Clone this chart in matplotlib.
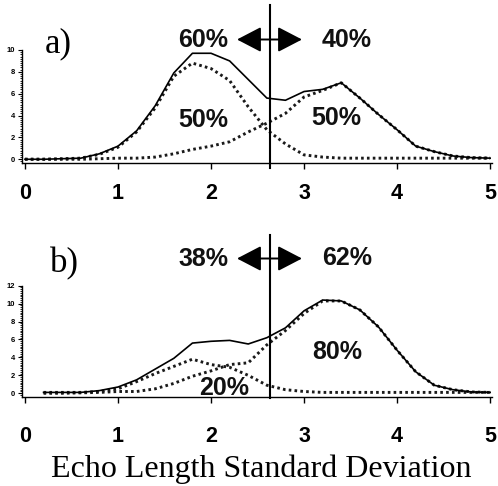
import matplotlib
matplotlib.use("Agg")
import matplotlib.pyplot as plt
from matplotlib.patches import FancyArrowPatch
from matplotlib.lines import Line2D
from matplotlib.ticker import MultipleLocator

W, H = 498, 486

# ---------------- data ----------------
x_a = [0.0, 0.2, 0.4, 0.6, 0.8, 1.0, 1.2, 1.4, 1.6, 1.8, 2.0, 2.2, 2.4, 2.6,
       2.8, 3.0, 3.2, 3.4, 3.6, 3.8, 4.0, 4.2, 4.4, 4.6, 4.8, 5.0]
total_a = [0.0, 0.0, 0.05, 0.1, 0.5, 1.2, 2.6, 4.9, 7.9, 9.7, 9.7, 9.0, 7.3, 5.6,
           5.4, 6.2, 6.4, 7.0, 5.6, 4.1, 2.7, 1.2, 0.7, 0.3, 0.15, 0.1]
comp1_a = [0.0, 0.0, 0.05, 0.1, 0.45, 1.1, 2.5, 4.7, 7.6, 8.8, 8.3, 7.2, 4.8, 2.7,
           1.4, 0.4, 0.2, 0.1, 0.1, 0.1, 0.1, 0.1, 0.1, 0.1, 0.1, 0.1]
comp2_a = [0.0, 0.0, 0.0, 0.0, 0.05, 0.1, 0.1, 0.2, 0.5, 0.9, 1.2, 1.6, 2.5, 3.3,
           4.2, 5.7, 6.3, 7.0, 5.6, 4.1, 2.7, 1.2, 0.7, 0.3, 0.15, 0.1]

x_b = [0.2, 0.4, 0.6, 0.8, 1.0, 1.2, 1.4, 1.6, 1.8, 2.0, 2.2, 2.4, 2.6,
       2.8, 3.0, 3.2, 3.4, 3.6, 3.8, 4.0, 4.2, 4.4, 4.6, 4.8, 5.0]
total_b = [0.1, 0.1, 0.1, 0.3, 0.7, 1.5, 2.7, 3.9, 5.6, 5.8, 5.9, 5.5, 6.2,
           7.3, 9.2, 10.4, 10.3, 9.3, 7.4, 4.8, 2.4, 0.9, 0.4, 0.15, 0.1]
comp1_b = [0.1, 0.1, 0.1, 0.2, 0.5, 1.3, 2.2, 3.0, 3.8, 3.2, 2.9, 2.0, 0.9,
           0.4, 0.2, 0.1, 0.1, 0.1, 0.1, 0.1, 0.1, 0.1, 0.1, 0.1, 0.1]
comp2_b = [0.0, 0.0, 0.05, 0.1, 0.2, 0.2, 0.5, 1.1, 1.9, 2.5, 3.2, 3.4, 5.4,
           7.0, 8.9, 10.3, 10.3, 9.3, 7.4, 4.8, 2.4, 0.9, 0.4, 0.15, 0.1]

xticks = [0, 1, 2, 3, 4, 5]
yticks_a = [0, 2, 4, 6, 8, 10]
yticks_b = [0, 2, 4, 6, 8, 10, 12]
split_x = 2.63
labels_a = ("60%", "40%", "50%", "50%")
labels_b = ("38%", "62%", "20%", "80%")
xlabel = "Echo Length Standard Deviation"

# ---------------- figure ----------------
fig = plt.figure(figsize=(W / 100, H / 100), dpi=100)
SANS = ["Liberation Sans", "DejaVu Sans"]
SERIF = ["Liberation Serif", "DejaVu Serif"]


def fx(px):
    return px / W


def fy(py):
    return 1 - py / H


def make_ax(top_px, bot_px, ymin, ymax, yticks, label_pad):
    left_px, right_px = 21.7, 492
    ax = fig.add_axes([fx(left_px), fy(bot_px), (right_px - left_px) / W,
                       (bot_px - top_px) / H])
    ax.set_xlim(-0.035, 5.02)
    ax.set_ylim(ymin, ymax)
    for s in ("top", "right"):
        ax.spines[s].set_visible(False)
    for s in ("left", "bottom"):
        ax.spines[s].set_linewidth(1.0)
    ax.set_xticks(xticks)
    ax.set_xticklabels([str(t) for t in xticks], fontsize=15.5,
                       fontweight="bold", family=SANS)
    ax.tick_params(axis="x", direction="out", length=4, width=1,
                   pad=label_pad)
    ax.set_yticks(yticks)
    ax.set_yticklabels([str(t) for t in yticks], fontsize=5.5,
                       fontweight="bold", family=SANS)
    ax.yaxis.set_minor_locator(MultipleLocator(0.2))
    ax.tick_params(axis="y", which="major", direction="out", length=3,
                   width=0.8, pad=2)
    ax.tick_params(axis="y", which="minor", direction="out", length=1.8,
                   width=0.6)
    ax.patch.set_alpha(0)
    return ax


def draw(ax, x, tot, c1, c2):
    dot = dict(color="#1a1a1a", lw=2.1, linestyle=(0, (0.9, 1.1)),
               solid_capstyle="butt", dash_capstyle="butt")
    ax.plot(x, c1, **dot)
    ax.plot(x, c2, **dot)
    ax.plot(x, tot, color="black", lw=1.2)


ax_a = make_ax(50, 163.3, -0.37, 10.0, yticks_a, 10)
draw(ax_a, x_a, total_a, comp1_a, comp2_a)

ax_b = make_ax(285.7, 396.7, -0.38, 12.0, yticks_b, 17)
draw(ax_b, x_b, total_b, comp1_b, comp2_b)

# vertical split lines (span above the axes)
for ax, top_px, bot_px in ((ax_a, 5, 168), (ax_b, 235, 398)):
    xp = ax.transData.transform((split_x, 0))[0]
    fig.add_artist(Line2D([xp / W, xp / W], [fy(top_px), fy(bot_px)],
                          transform=fig.transFigure, color="black", lw=1.5))


def arrow(y_px):
    fig.add_artist(FancyArrowPatch(
        (fx(237), fy(y_px)), (fx(302), fy(y_px)), transform=fig.transFigure,
        arrowstyle="<|-|>,head_length=15,head_width=7.8", mutation_scale=1,
        shrinkA=0, shrinkB=0, color="black", lw=1.4))


arrow(39.5)
arrow(258.5)

pct = dict(fontsize=18, fontweight="bold", family=SANS, ha="center",
           va="center", color="#111111")
fig.text(fx(203), fy(40), labels_a[0], **pct)
fig.text(fx(347), fy(40), labels_a[1], **pct)
fig.text(fx(203), fy(120), labels_a[2], **pct)
fig.text(fx(336), fy(118), labels_a[3], **pct)

fig.text(fx(203), fy(259), labels_b[0], **pct)
fig.text(fx(347), fy(258), labels_b[1], **pct)
fig.text(fx(224), fy(388), labels_b[2], **pct)
fig.text(fx(337), fy(352), labels_b[3], **pct)

fig.text(fx(45), fy(52), "a)", fontsize=25, family=SERIF, ha="left",
         va="baseline")
fig.text(fx(50), fy(272), "b)", fontsize=25, family=SERIF, ha="left",
         va="baseline")
fig.text(fx(261), fy(477), xlabel, fontsize=23, family=SERIF, ha="center",
         va="baseline")

fig.savefig("out.png", dpi=100)
